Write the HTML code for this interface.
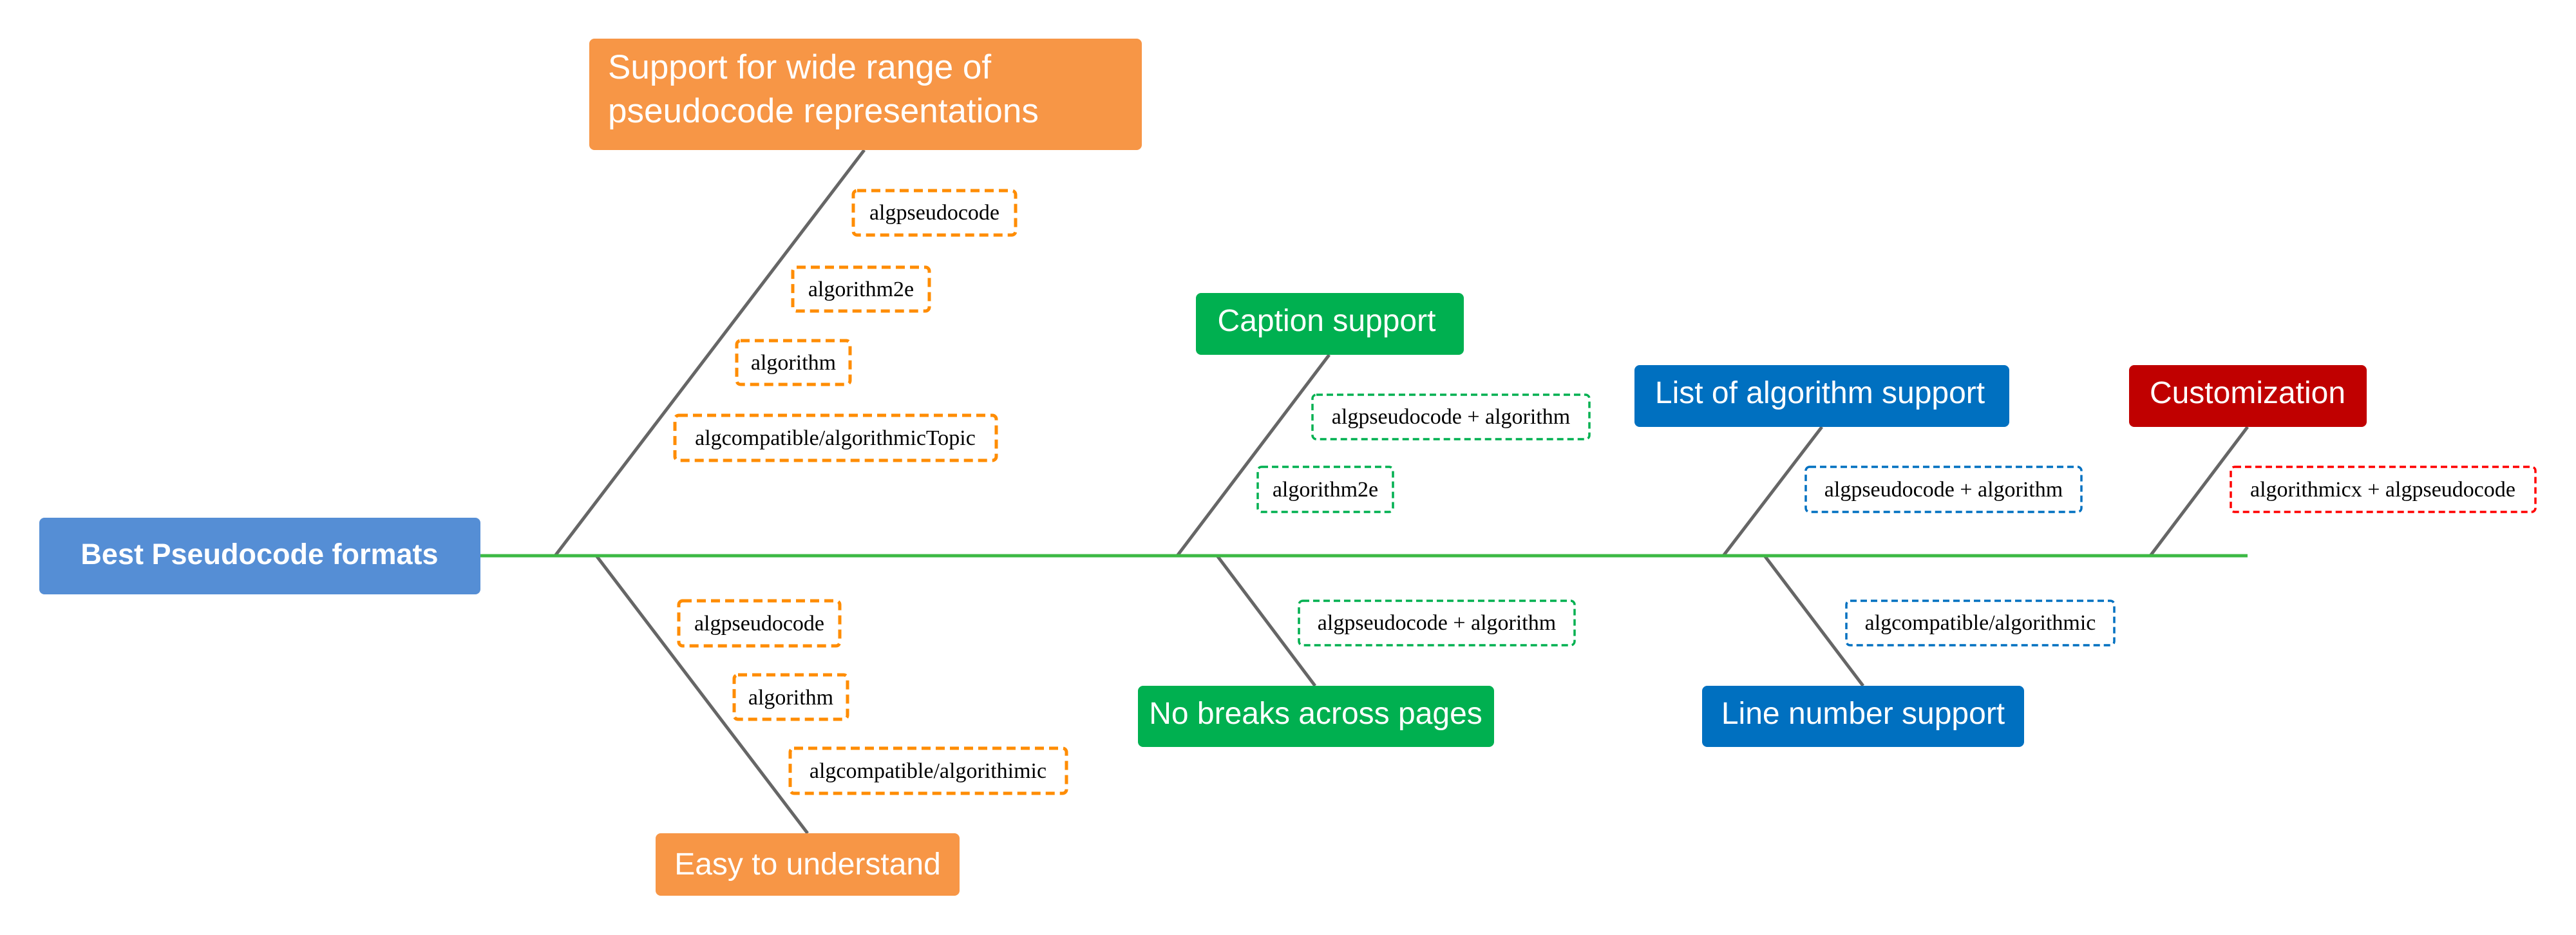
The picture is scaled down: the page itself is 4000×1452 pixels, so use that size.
<!DOCTYPE html>
<html><head><meta charset="utf-8"><style>html,body{margin:0;padding:0;background:#fff}svg{display:block}</style></head>
<body>
<svg width="4000" height="1452" viewBox="0 0 4000 1452" xmlns="http://www.w3.org/2000/svg">
<g stroke="#666" stroke-width="5" fill="none">
<line x1="1342" y1="233" x2="862" y2="863"/>
<line x1="926" y1="863" x2="1254" y2="1294"/>
<line x1="2064" y1="551" x2="1828" y2="863"/>
<line x1="1890" y1="863" x2="2042" y2="1065"/>
<line x1="2829" y1="663" x2="2676" y2="863"/>
<line x1="2740" y1="863" x2="2893" y2="1065"/>
<line x1="3490" y1="663" x2="3339" y2="863"/>
</g>
<line x1="746" y1="863" x2="3490" y2="863" stroke="#3cb944" stroke-width="5"/>
<g font-family="Liberation Sans, sans-serif" fill="#fff">
<rect x="61" y="804" width="685" height="119" rx="8" fill="#558ed5"/>
<text x="403" y="876" font-size="45" font-weight="bold" text-anchor="middle" fill="#fff">Best Pseudocode formats</text>
<rect x="915" y="60" width="858" height="173" rx="8" fill="#f79646"/>
<text x="944" y="122" font-size="53" fill="#fff">Support for wide range of</text>
<text x="944" y="190" font-size="53" fill="#fff">pseudocode representations</text>
<rect x="1018" y="1294" width="472" height="97" rx="8" fill="#f79646"/>
<text x="1254" y="1358" font-size="48" text-anchor="middle" fill="#fff">Easy to understand</text>
<rect x="1857" y="455" width="416" height="96" rx="8" fill="#00b050"/>
<text x="2060" y="514" font-size="48" text-anchor="middle" fill="#fff">Caption support</text>
<rect x="1767" y="1065" width="553" height="95" rx="8" fill="#00b050"/>
<text x="2043" y="1124" font-size="48" text-anchor="middle" fill="#fff">No breaks across pages</text>
<rect x="2538" y="567" width="582" height="96" rx="8" fill="#0070c0"/>
<text x="2826" y="626" font-size="48" text-anchor="middle" fill="#fff">List of algorithm support</text>
<rect x="2643" y="1065" width="500" height="95" rx="8" fill="#0070c0"/>
<text x="2893" y="1124" font-size="48" text-anchor="middle" fill="#fff">Line number support</text>
<rect x="3306" y="567" width="369" height="96" rx="8" fill="#c00000"/>
<text x="3490" y="626" font-size="48" text-anchor="middle" fill="#fff">Customization</text>
</g>
<g font-family="Liberation Serif, serif" font-size="34" fill="#000" text-anchor="middle">
<g fill="#fff" stroke="#ff8c00" stroke-width="5" stroke-dasharray="14 8">
<rect x="1325" y="296" width="252" height="69" rx="6"/>
<rect x="1231" y="415" width="212" height="68" rx="6"/>
<rect x="1144" y="529" width="176" height="68" rx="6"/>
<rect x="1048" y="645" width="499" height="70" rx="6"/>
<rect x="1054" y="933" width="250" height="70" rx="6"/>
<rect x="1140" y="1048" width="176" height="69" rx="6"/>
<rect x="1227" y="1162" width="429" height="70" rx="6"/>
</g>
<g fill="#fff" stroke-width="3.5" stroke-dasharray="10 6">
<rect x="2038" y="613" width="430" height="69" rx="6" stroke="#00b050"/>
<rect x="1953" y="725" width="210" height="70" rx="6" stroke="#00b050"/>
<rect x="2017" y="933" width="428" height="69" rx="6" stroke="#00b050"/>
<rect x="2804" y="725" width="428" height="70" rx="6" stroke="#0070c0"/>
<rect x="2867" y="933" width="416" height="69" rx="6" stroke="#0070c0"/>
<rect x="3464" y="725" width="473" height="70" rx="6" stroke="#ff0000"/>
</g>
<text x="1451" y="341">algpseudocode</text>
<text x="1337" y="460">algorithm2e</text>
<text x="1232" y="574">algorithm</text>
<text x="1297" y="691">algcompatible/algorithmicTopic</text>
<text x="1179" y="979">algpseudocode</text>
<text x="1228" y="1094">algorithm</text>
<text x="1441" y="1208">algcompatible/algorithimic</text>
<text x="2253" y="658">algpseudocode + algorithm</text>
<text x="2058" y="771">algorithm2e</text>
<text x="2231" y="978">algpseudocode + algorithm</text>
<text x="3018" y="771">algpseudocode + algorithm</text>
<text x="3075" y="978">algcompatible/algorithmic</text>
<text x="3700" y="771">algorithmicx + algpseudocode</text>
</g>
</svg>
</body></html>
